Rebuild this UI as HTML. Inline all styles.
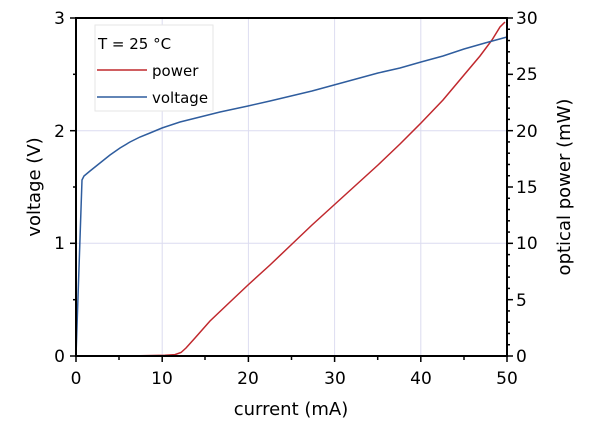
<!DOCTYPE html>
<html><head><style>body{margin:0;background:#fff}svg{display:block;font-family:"DejaVu Sans","Liberation Sans",sans-serif}</style></head>
<body>
<svg width="600" height="424" viewBox="0 0 600 424">
<g stroke="#dcdcf0" stroke-width="1">
<line x1="162.2" y1="18" x2="162.2" y2="356"/><line x1="248.4" y1="18" x2="248.4" y2="356"/><line x1="334.6" y1="18" x2="334.6" y2="356"/><line x1="420.8" y1="18" x2="420.8" y2="356"/>
<line x1="76" y1="130.7" x2="507" y2="130.7"/><line x1="76" y1="243.3" x2="507" y2="243.3"/>
</g>
<rect x="95" y="25" width="118" height="86" fill="#fff" stroke="#e6e6e6"/>
<text x="98" y="49" font-size="15">T = 25 °C</text>
<line x1="97" y1="70" x2="147" y2="70" stroke="#c0282d" stroke-width="1.5"/>
<text x="152" y="76" font-size="15">power</text>
<line x1="97" y1="97" x2="147" y2="97" stroke="#2f5d9e" stroke-width="1.5"/>
<text x="152" y="103" font-size="15">voltage</text>
<polyline fill="none" stroke="#c0282d" stroke-width="1.5" points="76,356 140,355.8 165,355.2 175,354.6 181,352.5 186,348 195,338 210,321 230,302 248,285 270,265 291,245 312,225 334,205 356,185 378,165 400,144 421,123 443,100 464,75 480,56 492,40 500,27 505,22"/>
<polyline fill="none" stroke="#2f5d9e" stroke-width="1.5" points="76,356 82,180 84,176 90,171 100,163 110,155 120,148 130,142 140,137 150,133 162,128 180,122 200,117 220,112 248,106 270,101 291,96 312,91 334,85 356,79 378,73 400,68 421,62 443,56 464,49 485,43 507,37"/>
<g stroke="#000" stroke-width="2" fill="none"><line x1="76" y1="18" x2="76" y2="357"/><line x1="507" y1="18" x2="507" y2="357"/><line x1="75" y1="356" x2="508" y2="356"/><line x1="75" y1="18" x2="508" y2="18"/></g>
<g stroke="#000" stroke-width="1.5">
<line x1="70" y1="18" x2="76" y2="18"/><line x1="70" y1="130.7" x2="76" y2="130.7"/><line x1="70" y1="243.3" x2="76" y2="243.3"/><line x1="70" y1="356" x2="76" y2="356"/>
<line x1="73" y1="74.3" x2="76" y2="74.3"/><line x1="73" y1="187" x2="76" y2="187"/><line x1="73" y1="299.7" x2="76" y2="299.7"/>
<line x1="76" y1="356" x2="76" y2="362"/><line x1="162.2" y1="356" x2="162.2" y2="362"/><line x1="248.4" y1="356" x2="248.4" y2="362"/><line x1="334.6" y1="356" x2="334.6" y2="362"/><line x1="420.8" y1="356" x2="420.8" y2="362"/><line x1="507" y1="356" x2="507" y2="362"/>
<line x1="119" y1="356" x2="119" y2="360"/><line x1="205" y1="356" x2="205" y2="360"/><line x1="291.5" y1="356" x2="291.5" y2="360"/><line x1="377.7" y1="356" x2="377.7" y2="360"/><line x1="464" y1="356" x2="464" y2="360"/>
</g>
<g id="rt" stroke="#000" stroke-width="1.5"></g>
<g font-size="17" text-anchor="end"><text x="65" y="24">3</text><text x="65" y="137">2</text><text x="65" y="249">1</text><text x="65" y="362">0</text></g>
<g font-size="17" text-anchor="start"><text x="516" y="24">30</text><text x="516" y="80">25</text><text x="516" y="137">20</text><text x="516" y="193">15</text><text x="516" y="249">10</text><text x="516" y="306">5</text><text x="516" y="362">0</text></g>
<g font-size="17" text-anchor="middle"><text x="76" y="384">0</text><text x="162" y="384">10</text><text x="248" y="384">20</text><text x="335" y="384">30</text><text x="421" y="384">40</text><text x="507" y="384">50</text></g>
<text x="291" y="415" font-size="18" text-anchor="middle">current (mA)</text>
<text transform="translate(40,187) rotate(-90)" font-size="18" text-anchor="middle">voltage (V)</text>
<text transform="translate(570,187) rotate(-90)" font-size="18" text-anchor="middle">optical power (mW)</text>
</svg>
<script>
var g=document.getElementById('rt'),s='';
for(var i=0;i<=30;i++){var y=356-i*338/30,l=(i%5==0)?6:3;s+='<line x1="507" y1="'+y+'" x2="'+(507+l)+'" y2="'+y+'"/>';}
g.innerHTML=s;
</script>
</body></html>
